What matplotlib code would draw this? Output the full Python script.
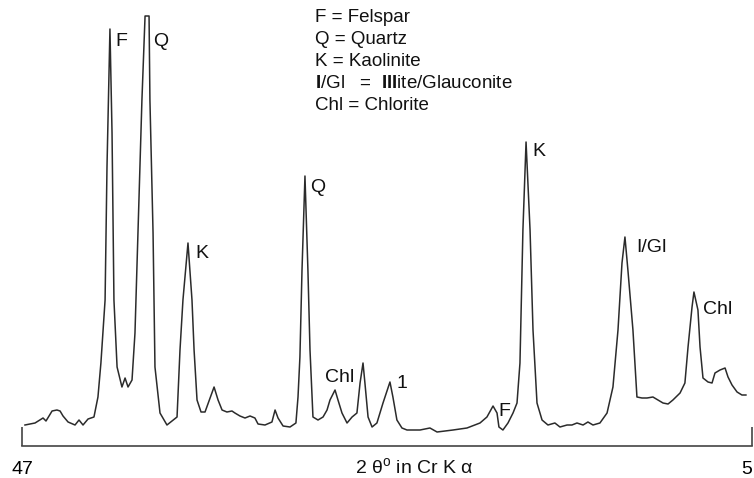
import matplotlib
matplotlib.use("Agg")
import matplotlib.pyplot as plt

plt.rcParams['font.family'] = ['Liberation Sans', 'DejaVu Sans']
plt.rcParams['mathtext.fontset'] = 'custom'
plt.rcParams['mathtext.rm'] = 'Liberation Sans'
plt.rcParams['mathtext.bf'] = 'Liberation Sans:bold'
plt.rcParams['mathtext.it'] = 'Liberation Sans:italic'

# trace (2 theta, intensity in arbitrary units)
dos_theta = [46.83, 46.25, 45.79, 45.62, 45.27, 44.99, 44.81, 44.64, 44.35, 43.95,
             43.72, 43.49, 43.20, 42.86, 42.63, 42.46, 42.22, 42.11, 41.94, 41.82,
             41.71, 41.53, 41.25, 41.07, 40.90, 40.67, 40.50, 40.33, 40.10, 39.92,
             39.69, 39.64, 39.46, 39.35, 39.06, 38.66, 38.08, 37.91, 37.74, 37.45,
             37.22, 37.10, 36.93, 36.70, 36.47, 36.18, 35.95, 35.72, 35.49, 35.21,
             34.92, 34.75, 34.46, 34.17, 33.88, 33.60, 33.42, 33.02, 32.62, 32.44,
             32.27, 31.98, 31.58, 31.24, 31.12, 31.01, 30.89, 30.72, 30.55, 30.43,
             30.26, 29.97, 29.68, 29.45, 29.28, 28.99, 28.82, 28.59, 28.30, 28.01,
             27.73, 27.55, 27.38, 27.27, 27.09, 26.86, 26.58, 26.23, 25.83, 25.66,
             25.43, 25.14, 24.85, 24.10, 23.53, 23.12, 22.20, 21.40, 20.65, 20.25,
             19.90, 19.67, 19.56, 19.33, 19.04, 18.75, 18.52, 18.35, 18.18, 18.00,
             17.77, 17.60, 17.37, 17.08, 16.74, 16.34, 16.05, 15.64, 15.36, 15.07,
             14.72, 14.44, 14.15, 13.75, 13.34, 13.00, 12.71, 12.48, 12.31, 12.14,
             11.85, 11.62, 11.33, 11.04, 10.70, 10.41, 10.12, 9.83, 9.55, 9.14,
             8.86, 8.68, 8.45, 8.34, 8.11, 7.99, 7.82, 7.53, 7.30, 7.13,
             6.84, 6.55, 6.38, 6.15, 5.86, 5.58, 5.35]
intensidad = [21, 23, 28, 25, 35, 36, 35, 30, 24, 21,
              26, 21, 27, 29, 49, 83, 146, 279, 417, 313,
              146, 79, 59, 68, 59, 66, 113, 213, 346, 430,
              430, 346, 213, 79, 33, 21, 29, 96, 146, 203,
              146, 96, 46, 34, 34, 48, 59, 46, 36, 34,
              35, 33, 30, 28, 30, 28, 22, 21, 24, 36,
              28, 20, 19, 23, 49, 89, 176, 270, 176, 96,
              29, 26, 29, 36, 46, 56, 46, 33, 23, 29,
              33, 63, 83, 63, 29, 19, 23, 43, 64, 49,
              26, 18, 16, 16, 18, 14, 16, 18, 23, 29,
              40, 33, 19, 16, 23, 33, 43, 83, 216, 304,
              216, 116, 43, 26, 21, 23, 19, 21, 21, 23,
              21, 24, 21, 23, 33, 59, 116, 183, 209, 176,
              116, 49, 48, 48, 49, 46, 43, 42, 46, 53,
              63, 99, 139, 154, 136, 99, 68, 64, 63, 73,
              76, 78, 69, 61, 54, 51, 51]

# peak labels
etiquetas = ['F', 'Q', 'K', 'Q', 'Chl', '1', 'F', 'K', 'I/Gl', 'Chl']
etiq_x = [41.65, 39.46, 37.05, 30.43, 29.57, 25.43, 19.61, 17.66, 11.68, 7.82]
etiq_y = [404, 404, 193, 259, 69, 63, 35, 294, 199, 136]

leyenda = ['F = Felspar', 'Q = Quartz', 'K = Kaolinite',
           r'$\mathbf{I}$/Gl   =  $\mathbf{Ill}$ite/Glauconite', 'Chl = Chlorite']

fig = plt.figure(figsize=(7.54, 4.78), dpi=100)
ax = fig.add_axes([22/754, 32/478, 730/754, 446/478])

ax.plot(dos_theta, intensidad, color='#2b2b2b', lw=1.1)
ax.set_xlim(47, 5)
ax.set_ylim(0, 446)

for s in ['top', 'right', 'left']:
    ax.spines[s].set_visible(False)
ax.spines['bottom'].set_color('#444444')
ax.spines['bottom'].set_linewidth(1.2)
ax.set_yticks([])
ax.set_xticks([47, 5])
ax.set_xticklabels(['47', '5'])
ax.tick_params(axis='x', direction='in', length=14, width=1.2, color='#444444',
               labelsize=14, pad=11)
# the right-hand label sits at the very edge of the figure
ax.get_xticklabels()[1].set_horizontalalignment('right')

for t, xx, yy in zip(etiquetas, etiq_x, etiq_y):
    ax.text(xx, yy, t, fontsize=14, ha='left', va='center', color='#111111')

for i, linea in enumerate(leyenda):
    fig.text(315/754, 1 - (18 + 22*i)/478, linea, fontsize=13.5,
             ha='left', va='center', color='#111111')

ax.text(0.538, -0.047, r'2 θ$^{\rm o}$ in Cr K α', transform=ax.transAxes,
        fontsize=14, ha='center', va='center', color='#111111')

plt.savefig('out.png', dpi=100)
